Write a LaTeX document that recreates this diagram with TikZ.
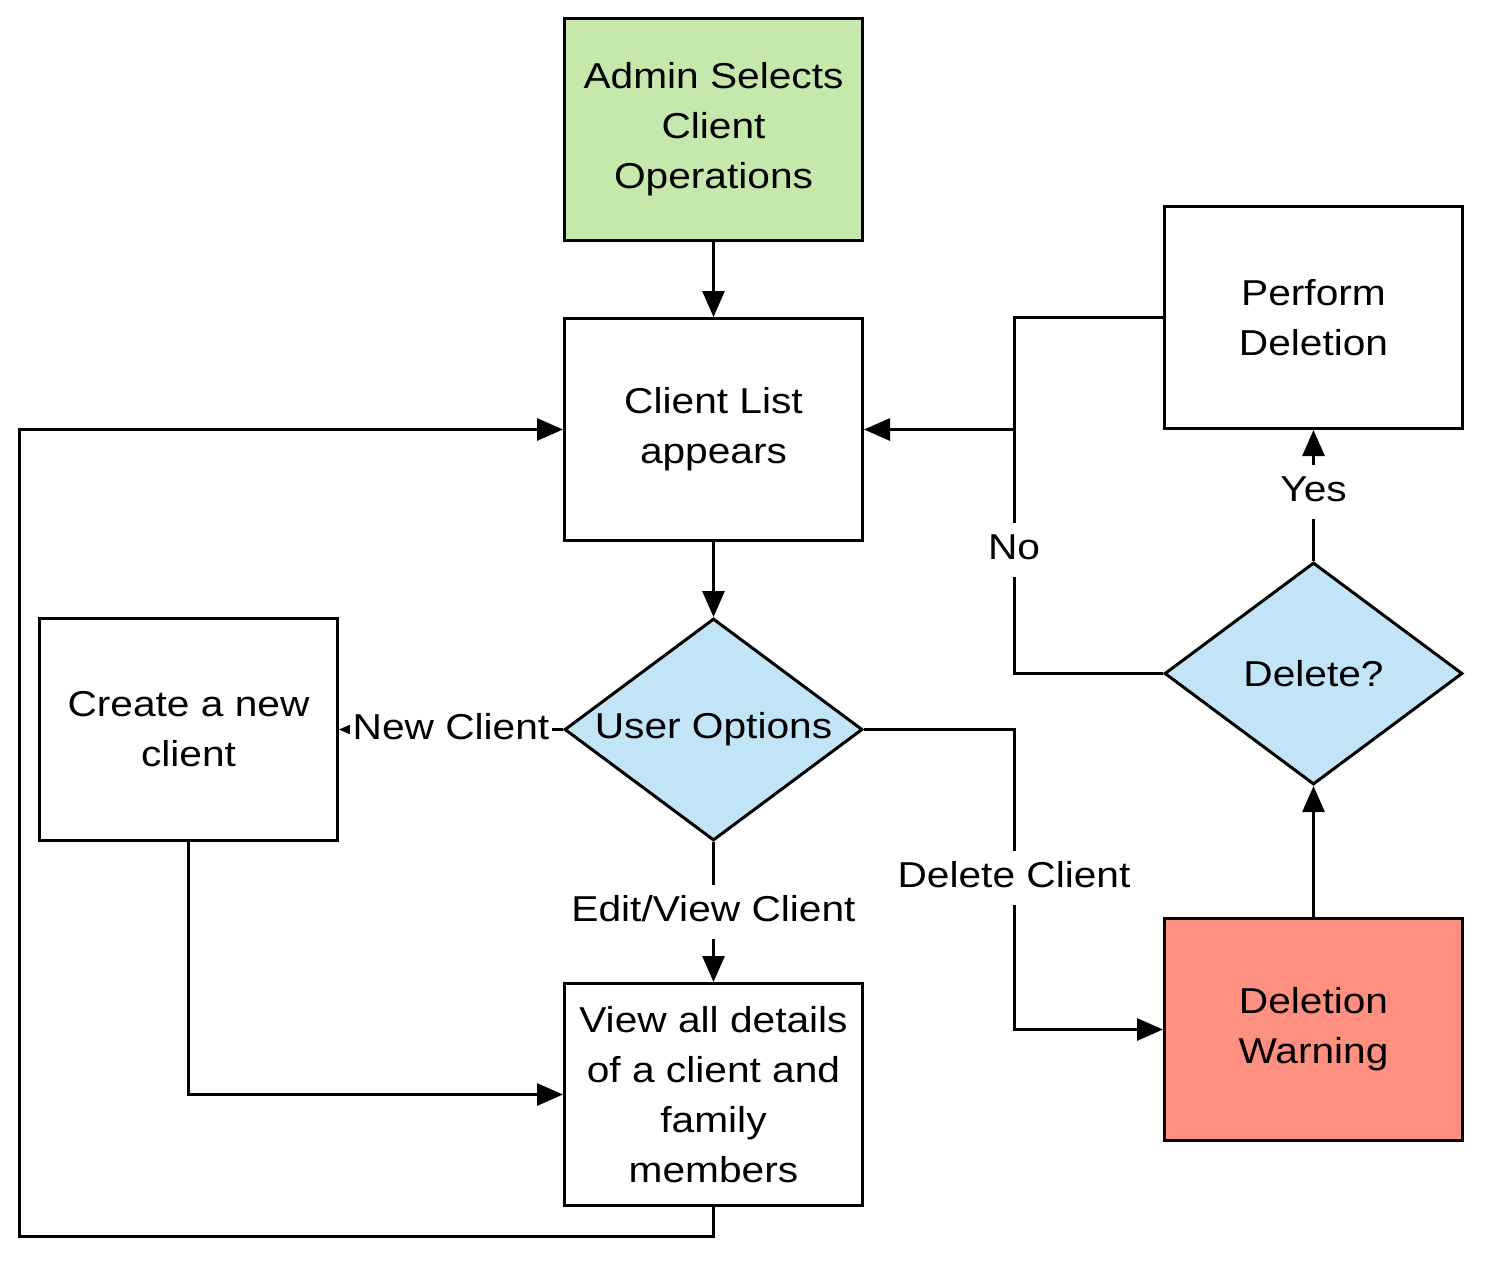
\documentclass[tikz,border=0pt]{standalone}
\usepackage{fontspec}
\setmainfont{Liberation Sans}[FakeStretch=1.13]
\usetikzlibrary{arrows.meta,shapes.geometric}
\definecolor{boxgreen}{HTML}{C7E8AC}
\definecolor{diablue}{HTML}{C1E4F7}
\definecolor{warnred}{HTML}{FF8F80}
\begin{document}
\begin{tikzpicture}[x=1pt,y=-1pt,line width=3pt,
  every node/.style={font=\fontsize{36pt}{50pt}\selectfont},
  procbox/.style={draw,rectangle,minimum width=298pt,minimum height=222pt,align=center,inner sep=0pt},
  decis/.style={draw,diamond,minimum width=298pt,minimum height=222pt,inner sep=0pt,fill=diablue},
  lbl/.style={fill=white,inner xsep=3pt,inner ysep=0pt,text height=27pt,text depth=8pt,minimum height=54pt},
  arr/.style={-{Triangle[length=26pt,width=22pt]}}]
\useasboundingbox (0,0) rectangle (1489,1266);
% nodes
\node[procbox,fill=boxgreen] (adm) at (713.5,129.5) {Admin Selects\\Client\\Operations};
\node[procbox] (cl) at (713.5,429.5) {Client List\\appears};
\node[decis] (uo) at (713.5,729.5) {\makebox[0pt]{User Options}};
\node[procbox] (cr) at (188.5,729.5) {Create a new\\client};
\node[procbox] (vw) at (713.5,1094.5) {View all details\\of a client and\\family\\members};
\node[procbox] (pd) at (1313.5,317.5) {Perform\\Deletion};
\node[decis] (del) at (1313.5,673.5) {\makebox[0pt]{Delete?}};
\node[procbox,fill=warnred] (dw) at (1313.5,1029.5) {Deletion\\Warning};
\coordinate (dx) at (1014,0);
\coordinate (lx) at (19,1236);
% connectors
\draw[arr] (adm.south) -- (cl.north);
\draw[arr] (cl.south) -- (uo.north);
\draw[arr] (uo.west) -- node[lbl,midway]{New Client} (cr.east);
\draw[arr] (uo.south) -- node[lbl,midway]{Edit/View Client} (vw.north);
\draw[arr] (uo.east) -- (uo.east -| dx) -- node[lbl,pos=0.495]{Delete Client} (dw.west -| dx) -- (dw.west);
\draw[arr] (dw.north) -- (del.south);
\draw[arr] (del.north) -- node[lbl,pos=0.53]{Yes} (pd.south);
\draw[arr] (del.west) -- (del.west -| dx) -- node[lbl,pos=0.506]{No} (cl.east -| dx) -- (cl.east);
\draw (pd.west) -| (cl.east -| dx);
\draw[arr] (cr.south) |- (vw.west);
\draw[arr] (vw.south) |- (lx) |- (cl.west);
\end{tikzpicture}
\end{document}
